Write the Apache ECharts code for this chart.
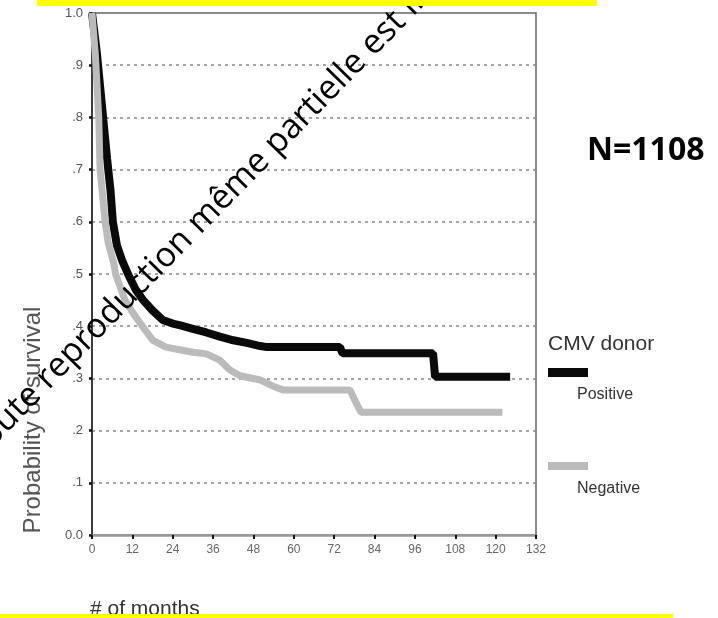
<!DOCTYPE html>
<html>
<head>
<meta charset="utf-8">
<script src="https://cdn.jsdelivr.net/npm/echarts@6/dist/echarts.min.js"></script>
<style>
html,body{margin:0;padding:0;background:#fff;}
#chart{width:718px;height:618px;}
</style>
</head>
<body>
<div id="chart"></div>
<script>
// ---- data ----
const monthsPositive = [0, 1.5, 2.4, 3.3, 4.5, 5.5, 6.2, 7.4, 9, 10.7, 13, 15.2, 18, 21, 24, 26, 30, 34, 38, 42, 46, 50, 52, 73.7, 74.5, 101.4, 102, 124.3];
const survPositive  = [1.0, 0.92, 0.86, 0.80, 0.72, 0.66, 0.60, 0.555, 0.525, 0.50, 0.47, 0.45, 0.43, 0.412, 0.405, 0.402, 0.395, 0.388, 0.38, 0.373, 0.368, 0.362, 0.36, 0.36, 0.348, 0.348, 0.303, 0.303];
const monthsNegative = [0, 1.0, 1.5, 2.0, 2.4, 3.9, 4.8, 6.5, 7.0, 9.8, 12.2, 15.2, 18.1, 22, 26, 30, 34, 38, 41, 44, 50, 53.8, 56.8, 76.7, 78, 80, 122];
const survNegative  = [1.0, 0.92, 0.86, 0.80, 0.70, 0.60, 0.56, 0.52, 0.50, 0.45, 0.425, 0.398, 0.373, 0.36, 0.355, 0.35, 0.347, 0.335, 0.316, 0.305, 0.297, 0.285, 0.278, 0.278, 0.26, 0.235, 0.235];
const yTickLabels = ['0.0', '.1', '.2', '.3', '.4', '.5', '.6', '.7', '.8', '.9', '1.0'];
const seriesNames = ['Positive', 'Negative'];
const legendTitle = 'CMV donor';
const yAxisTitle = 'Probability of survival';
const xAxisTitle = '# of months';
const nLabel = 'N=1108';
const watermark = 'Toute reproduction même partielle est interdite';

const pairs = (xs, ys) => xs.map((x, i) => [x, ys[i]]);

const chart = echarts.init(document.getElementById('chart'), null, {renderer: 'canvas'});
chart.setOption({
  animation: false,
  backgroundColor: '#ffffff',
  grid: {left: 92, right: 182, top: 13, bottom: 83, show: true, borderColor: '#666', borderWidth: 1.5, backgroundColor: 'transparent'},
  xAxis: {
    type: 'value', min: 0, max: 132, interval: 12,
    axisLine: {lineStyle: {color: '#999', width: 2.5}},
    axisTick: {show: true, length: 4, lineStyle: {color: '#111', width: 2}},
    axisLabel: {color: '#666', fontSize: 12, fontFamily: 'Liberation Sans', margin: 9},
    splitLine: {show: false}
  },
  yAxis: {
    type: 'value', min: 0, max: 1, interval: 0.1,
    axisLine: {show: true, lineStyle: {color: '#222', width: 1.5}},
    axisTick: {show: true, length: 3, lineStyle: {color: '#111', width: 2.5}},
    axisLabel: {color: '#555', fontSize: 13, fontFamily: 'Liberation Sans', margin: 9,
      formatter: v => yTickLabels[Math.round(v * 10)]},
    splitLine: {show: true, showMinLine: false, showMaxLine: false,
      lineStyle: {color: '#888', width: 1.5, type: [3, 4]}}
  },
  series: [
    {name: seriesNames[0], type: 'line', data: pairs(monthsPositive, survPositive), showSymbol: false,
      lineStyle: {color: '#0a0a0a', width: 8, join: 'bevel'}, z: 3},
    {name: seriesNames[1], type: 'line', data: pairs(monthsNegative, survNegative), showSymbol: false,
      lineStyle: {color: '#bbbbbb', width: 7, join: 'bevel'}, z: 4}
  ],
  graphic: [
    {type: 'text', x: 33, y: 420, rotation: Math.PI / 2,
      style: {text: yAxisTitle, fill: '#555', font: '24px "Liberation Sans"', align: 'center', verticalAlign: 'middle'}},
    {type: 'text', x: 90, y: 609,
      style: {text: xAxisTitle, fill: '#333', font: '21px "Liberation Sans"', align: 'left', verticalAlign: 'middle'}},
    {type: 'text', x: 548, y: 344,
      style: {text: legendTitle, fill: '#333', font: '21px "Liberation Sans"', align: 'left', verticalAlign: 'middle'}},
    {type: 'rect', shape: {x: 548, y: 368, width: 40, height: 9}, style: {fill: '#0a0a0a'}},
    {type: 'text', x: 577, y: 395,
      style: {text: seriesNames[0], fill: '#333', font: '16px "Liberation Sans"', align: 'left', verticalAlign: 'middle'}},
    {type: 'rect', shape: {x: 548, y: 462, width: 40, height: 8}, style: {fill: '#bbbbbb'}},
    {type: 'text', x: 577, y: 489,
      style: {text: seriesNames[1], fill: '#333', font: '16px "Liberation Sans"', align: 'left', verticalAlign: 'middle'}},
    {type: 'text', x: 587, y: 151,
      style: {text: nLabel, fill: '#000', font: 'bold 32px "Open Sans"', align: 'left', verticalAlign: 'middle'}},
    {type: 'text', x: -28, y: 455, rotation: 45.7 * Math.PI / 180, z: 20,
      style: {text: watermark, fill: '#000', font: '34px "Open Sans"', align: 'left', verticalAlign: 'middle'}},
    {type: 'rect', shape: {x: 37, y: 0, width: 560, height: 6}, style: {fill: '#ffff00'}, z: 30},
    {type: 'rect', shape: {x: 0, y: 614, width: 673, height: 4}, style: {fill: '#ffff00'}, z: 30}
  ]
});
</script>
</body>
</html>
